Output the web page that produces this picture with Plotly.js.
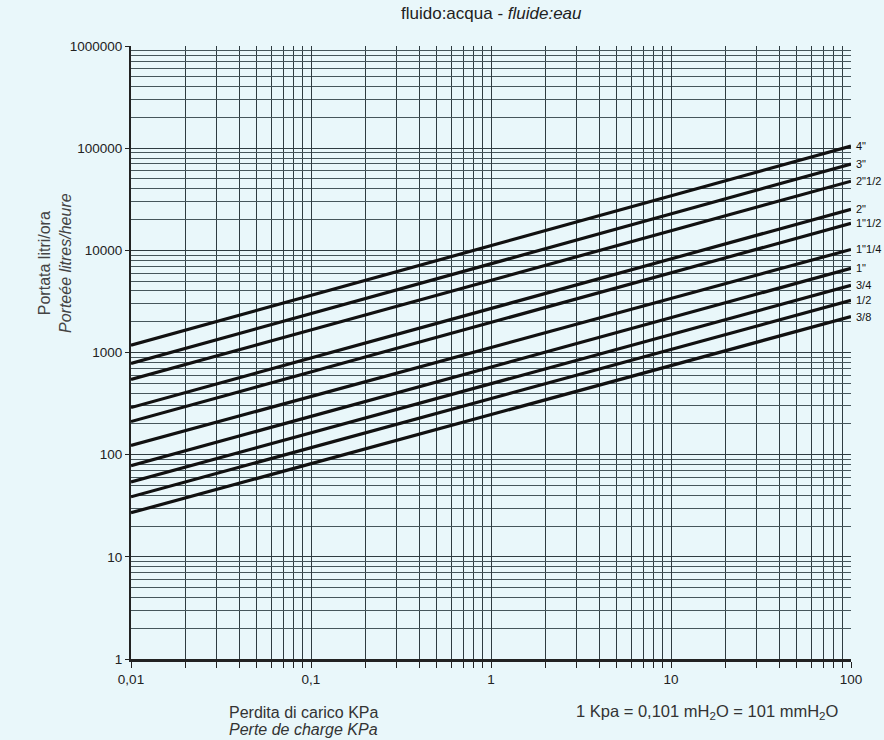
<!DOCTYPE html>
<html>
<head>
<meta charset="utf-8">
<script src="https://cdn.plot.ly/plotly-3.0.1.min.js"></script>
<style>
html,body{margin:0;padding:0;background:#e9f7fa;}
#chart{width:884px;height:740px;}
</style>
</head>
<body>
<div id="chart"></div>
<script>
// Pipe sizes
const sizes = ['4"', '3"', '2"1/2', '2"', '1"1/2', '1"1/4', '1"', '3/4', '1/2', '3/8'];
// Pressure drop endpoints (KPa)
const pressure = [0.01, 100];
// Flow at 0.01 KPa (l/h)
const flowLeft = [1180, 780, 544, 289, 211, 123, 78, 54, 38.7, 27];
// Flow at 100 KPa (l/h)
const flowRight = [105000, 70000, 47500, 25200, 18400, 10200, 6660, 4540, 3240, 2250];

const xTickVals = [0.01, 0.1, 1, 10, 100];
const xTickText = ['0,01', '0,1', '1', '10', '100'];
const yTickVals = [1, 10, 100, 1000, 10000, 100000, 1000000];
const yTickText = ['1', '10', '100', '1000', '10000', '100000', '1000000'];

const bg = '#e9f7fa';
const gridCol = '#2f3c41';
const font = 'Liberation Sans, Arial, sans-serif';

const traces = sizes.map((s, i) => ({
  type: 'scatter', mode: 'lines', name: s,
  x: pressure, y: [flowLeft[i], flowRight[i]],
  line: {color: '#111', width: 3.2},
  hoverinfo: 'skip', showlegend: false, cliponaxis: false
}));

const annotations = sizes.map((s, i) => ({
  x: Math.log10(pressure[1]), y: Math.log10(flowRight[i]), xref: 'x', yref: 'y',
  text: s, showarrow: false, xanchor: 'left', yanchor: 'middle', xshift: 3,
  font: {family: font, size: 11, color: '#111'}
}));

annotations.push(
  {xref: 'paper', yref: 'paper', x: 0.5, y: 1, yshift: 33, xanchor: 'center', yanchor: 'middle', showarrow: false,
   text: 'fluido:acqua - <i>fluide:eau</i>', font: {family: font, size: 17, color: '#222'}},
  {xref: 'paper', yref: 'paper', x: 0.133, y: 0, yshift: -53, xanchor: 'left', yanchor: 'middle', showarrow: false,
   text: 'Perdita di carico KPa', font: {family: font, size: 16, color: '#333'}},
  {xref: 'paper', yref: 'paper', x: 0.133, y: 0, yshift: -70, xanchor: 'left', yanchor: 'middle', showarrow: false,
   text: '<i>Perte de charge KPa</i>', font: {family: font, size: 16, color: '#333'}},
  {xref: 'paper', yref: 'paper', x: 0.985, y: 0, yshift: -53, xanchor: 'right', yanchor: 'middle', showarrow: false,
   text: '1 Kpa = 0,101 mH<sub>2</sub>O = 101 mmH<sub>2</sub>O', font: {family: font, size: 16.5, color: '#333'}},
  {xref: 'paper', yref: 'paper', x: 0, y: 0.646, xshift: -76, xanchor: 'center', yanchor: 'middle', showarrow: false,
   textangle: -90, text: 'Portata litri/ora<br><i>Porteée litres/heure</i>', font: {family: font, size: 16, color: '#444'}}
);

const layout = {
  width: 884, height: 740,
  margin: {l: 131, r: 33, t: 46, b: 81},
  paper_bgcolor: bg, plot_bgcolor: bg,
  showlegend: false,
  xaxis: {
    type: 'log', range: [-2, 2],
    tickmode: 'array', tickvals: xTickVals, ticktext: xTickText,
    ticks: 'outside', ticklen: 6, tickcolor: '#222', tickwidth: 1,
    showgrid: true, gridcolor: gridCol, gridwidth: 1,
    showline: true, linecolor: '#222', linewidth: 2.5,
    zeroline: false,
    tickfont: {family: font, size: 13.5, color: '#222'},
    minor: {dtick: 'D1', ticks: 'outside', ticklen: 6, tickcolor: '#222', showgrid: true, gridcolor: gridCol, gridwidth: 1},
    mirror: false
  },
  yaxis: {
    type: 'log', range: [0, 6],
    tickmode: 'array', tickvals: yTickVals, ticktext: yTickText,
    ticks: 'outside', ticklen: 4, tickcolor: '#222', tickwidth: 1,
    showgrid: true, gridcolor: gridCol, gridwidth: 1,
    showline: true, linecolor: '#222', linewidth: 2,
    zeroline: false,
    tickfont: {family: font, size: 13.5, color: '#222'},
    minor: {dtick: 'D1', ticks: '', showgrid: true, gridcolor: '#46565b', gridwidth: 1}
  },
  annotations: annotations
};

Plotly.newPlot('chart', traces, layout, {displayModeBar: false, staticPlot: true});
</script>
</body>
</html>
